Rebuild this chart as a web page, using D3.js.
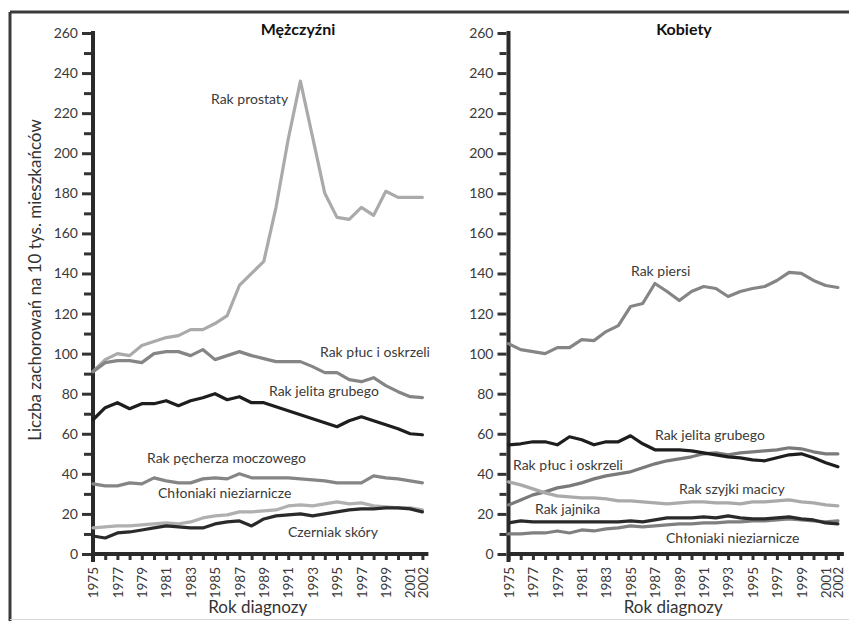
<!DOCTYPE html>
<html><head><meta charset="utf-8">
<script src="https://cdn.jsdelivr.net/npm/d3@7"></script>
<style>
body{margin:0;background:#fff;}
svg{display:block;}
text{font-family:Lato,"Noto Sans",sans-serif;}
</style></head>
<body>
<svg id="c" width="849" height="621"></svg>
<script>
const years = [1975,1976,1977,1978,1979,1980,1981,1982,1983,1984,1985,1986,1987,1988,1989,1990,1991,1992,1993,1994,1995,1996,1997,1998,1999,2000,2001,2002];
const yearLabels = [1975,1977,1979,1981,1983,1985,1987,1989,1991,1993,1995,1997,1999,2001,2002];
const yTicks = [0,10,20,30,40,50,60,70,80,90,100,110,120,130,140,150,160,170,180,190,200,210,220,230,240,250,260];
const yLabels = [0,20,40,60,80,100,120,140,160,180,200,220,240,260];

// Mężczyźni
const menProstate = [91,97,100,99,104,106,108,109,112,112,115,119,134,140,146,173,207,236,208,180,168,167,173,169,181,178,178,178];
const menLung     = [91,95.5,96.5,96.5,95.5,100,101,101,99,102,97,99,101,99,97.5,96,96,96,93.5,90.5,90.5,87,86,88,84,81,78.5,78];
const menColon    = [67,73,75.5,72.5,75,75,76.5,74,76.5,78,80,77,78.5,75.5,75.5,73.5,71.5,69.5,67.5,65.5,63.5,66.5,68.5,66.5,64.5,62.5,60,59.5];
const menBladder  = [35,34,34,35.5,35,38,36.5,35.5,35.5,37.5,38,37.5,40,38,38,38,38,37.5,37,36.5,35.5,35.5,35.5,39,38,37.5,36.5,35.5];
const menNHL      = [13,13.5,14,14,14.5,15,15.5,15,16,18,19,19.5,21,21,21.5,22,24,24.5,24,25,26,25,25.5,24,23.5,23,23,22];
const menMelanoma = [9,8,10.5,11,12,13,14,13.5,13,13,15,16,16.5,14,17.5,19,19.5,20,19,20,21,22,22.5,22.5,23,23,22.5,21];

// Kobiety
const womenBreast = [105,102,101,100,103,103,107,106.5,111,114,123.5,125,135,131,126.5,131,133.5,132.5,128.5,131,132.5,133.5,136.5,140.5,140,136.5,134,133];
const womenColon  = [54.5,55,56,56,54.5,58.5,57,54.5,56,56,59,55,52,52,52,51.5,50.5,49.5,48.5,48,47,46.5,48,49.5,50,48,45.5,43.5];
const womenLung   = [24.5,27,29.5,31,33,34,35.5,37.5,39,40,41,43,45,46.5,47.5,48.5,50,50.5,49.5,50.5,51,51.5,52,53,52.5,51,50,50];
const womenCervix = [36,34.5,32.5,30.5,29,28.5,28,28,27.5,26.5,26.5,26,25.5,25,25.5,26,26,25.5,25.5,25,26,26,26.5,27,26,25.5,24.5,24];
const womenOvary  = [15.5,16.5,16,16,16,16,16,16,16,16,16.5,16,17,18,18,18,18.5,18,19,18,17.5,17.5,18,18.5,17.5,17,15.5,15];
const womenNHL    = [10,10,10.5,10.5,11.5,10.5,12,11.5,12.5,13,14,13.5,14,14.5,15,15,15.5,15.5,16,16,16.5,16.5,17,17.5,17,16.5,16,16.5];

const panels = [
  {title:"Mężczyźni", x0:93, titleX:298, series:[
    {name:"Rak prostaty", v:menProstate, c:"#aaaaaa", lx:211, ly:104},
    {name:"Rak płuc i oskrzeli", v:menLung, c:"#858585", lx:320, ly:357},
    {name:"Rak pęcherza moczowego", v:menBladder, c:"#858585", lx:147, ly:463},
    {name:"Chłoniaki nieziarnicze", v:menNHL, c:"#b0b0b0", lx:158, ly:498},
    {name:"Czerniak skóry", v:menMelanoma, c:"#2a2a2a", lx:288, ly:537},
    {name:"Rak jelita grubego", v:menColon, c:"#1e1e1e", lx:269, ly:396}
  ]},
  {title:"Kobiety", x0:508.5, titleX:684, series:[
    {name:"Rak piersi", v:womenBreast, c:"#858585", lx:631, ly:276},
    {name:"Rak płuc i oskrzeli", v:womenLung, c:"#7a7a7a", lx:513, ly:470},
    {name:"Rak szyjki macicy", v:womenCervix, c:"#aaaaaa", lx:679, ly:494},
    {name:"Chłoniaki nieziarnicze", v:womenNHL, c:"#808080", lx:666, ly:543},
    {name:"Rak jajnika", v:womenOvary, c:"#2a2a2a", lx:535, ly:514},
    {name:"Rak jelita grubego", v:womenColon, c:"#1e1e1e", lx:655, ly:440}
  ]}
];

const svg = d3.select("#c");
// frame: dark top and left, faint bottom
svg.append("line").attr("x1",10).attr("x2",849).attr("y1",12).attr("y2",12)
  .attr("stroke","#3a3a3a").attr("stroke-width",3);
svg.append("line").attr("x1",10).attr("x2",10).attr("y1",12).attr("y2",621)
  .attr("stroke","#3a3a3a").attr("stroke-width",3);
svg.append("line").attr("x1",10).attr("x2",849).attr("y1",619.5).attr("y2",619.5)
  .attr("stroke","#d8d8d8").attr("stroke-width",1);

const y = d3.scaleLinear().domain([0,260]).range([554,33]);

panels.forEach(p => {
  const x = d3.scaleLinear().domain([1975,2002]).range([p.x0, p.x0 + 27*12.2]);
  const g = svg.append("g");

  // y axis
  const ya = g.append("g").attr("transform",`translate(${p.x0},0)`)
    .call(d3.axisLeft(y).tickValues(yTicks).tickSize(11).tickPadding(5)
      .tickFormat(d => yLabels.includes(d) ? d : ""));
  ya.select(".domain").remove();
  ya.selectAll(".tick line").attr("stroke","#333").attr("stroke-width",3)
    .attr("x1",-2).attr("x2", d => yLabels.includes(d) ? -11 : -9);
  ya.selectAll(".tick text").attr("font-size",14).attr("fill","#3a3a3a").attr("x",-15);

  // x axis
  const xa = g.append("g").attr("transform",`translate(0,${y(0)})`)
    .call(d3.axisBottom(x).tickValues(years).tickSize(6).tickPadding(4)
      .tickFormat(d => yearLabels.includes(d) ? d : ""));
  xa.select(".domain").remove();
  xa.selectAll(".tick line").attr("stroke","#333").attr("stroke-width",3);
  xa.selectAll(".tick text").attr("font-size",13.5).attr("fill","#3a3a3a")
    .attr("transform","rotate(-90)").attr("text-anchor","end")
    .attr("x",-13).attr("y",0).attr("dy","0.35em");

  // axis lines
  g.append("line").attr("x1",p.x0).attr("x2",p.x0).attr("y1",y(260)-2).attr("y2",y(0)+8)
    .attr("stroke","#2a2a2a").attr("stroke-width",4);
  g.append("line").attr("x1",p.x0).attr("x2",x(2002)+6).attr("y1",y(0)).attr("y2",y(0))
    .attr("stroke","#2a2a2a").attr("stroke-width",4);

  // lines
  const line = d3.line().x((d,i)=>x(years[i])).y(d=>y(d));
  p.series.forEach(s => {
    g.append("path").datum(s.v).attr("d",line).attr("fill","none")
      .attr("stroke",s.c).attr("stroke-width",3.2)
      .attr("stroke-linejoin","round").attr("stroke-linecap","round");
  });
  p.series.forEach(s => {
    g.append("text").attr("x",s.lx).attr("y",s.ly).attr("font-size",14)
      .attr("fill","#3a3a3a").text(s.name);
  });

  // title
  g.append("text").attr("x",p.titleX).attr("y",35).attr("text-anchor","middle")
    .attr("font-size",16).attr("font-weight","bold").attr("fill","#111").text(p.title);
  // x title
  g.append("text").attr("x",(p.x0 + x(2002))/2).attr("y",613).attr("text-anchor","middle")
    .attr("font-size",17).attr("fill","#333").text("Rok diagnozy");
});

svg.append("text").attr("transform","translate(41,280) rotate(-90)")
  .attr("text-anchor","middle").attr("font-size",17).attr("fill","#333")
  .text("Liczba zachorowań na 10 tys. mieszkańców");
</script>
</body></html>
